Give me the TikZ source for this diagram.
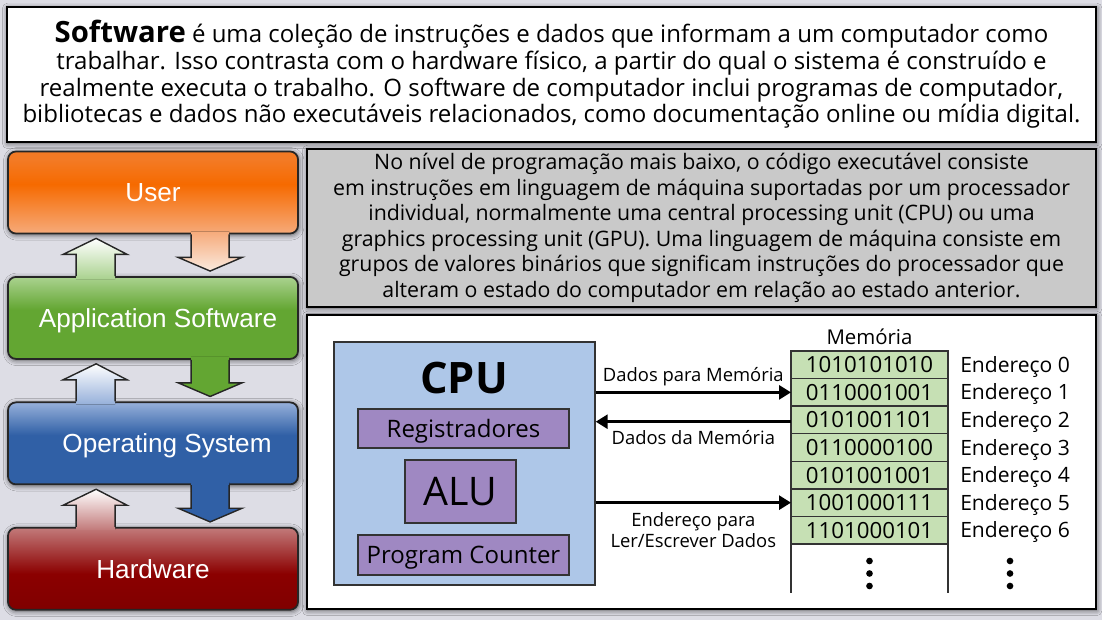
\documentclass[tikz,border=0pt]{standalone}
\usepackage{fontspec}
\setmainfont{Open Sans}
\newfontfamily\layerfont{Liberation Sans}
\usetikzlibrary{positioning, calc, arrows.meta, shadows.blur}

\definecolor{bggray}{RGB}{221,221,229}
\definecolor{panelgray}{RGB}{201,201,201}
\definecolor{cpublue}{RGB}{174,199,232}
\definecolor{regpurple}{RGB}{159,136,194}
\definecolor{memgreen}{RGB}{198,224,180}
\definecolor{usertop}{RGB}{243,122,36}
\definecolor{usermid}{RGB}{246,106,0}
\definecolor{userbot}{RGB}{246,170,122}
\definecolor{userpale}{RGB}{251,234,222}
\definecolor{apptop}{RGB}{170,210,143}
\definecolor{appmid}{RGB}{99,166,50}
\definecolor{ostop}{RGB}{150,176,218}
\definecolor{osmid}{RGB}{48,96,166}
\definecolor{hwtop}{RGB}{194,122,122}
\definecolor{hwmid}{RGB}{139,0,0}
\definecolor{hwbot}{RGB}{128,0,0}

\pgfdeclareverticalshading{usershade}{100bp}{color(0bp)=(userbot); color(25bp)=(userbot); color(55bp)=(usermid); color(70bp)=(usertop); color(100bp)=(usertop)}
\pgfdeclareverticalshading{appshade}{100bp}{color(0bp)=(appmid); color(25bp)=(appmid); color(55bp)=(appmid); color(75bp)=(apptop); color(100bp)=(apptop)}
\pgfdeclareverticalshading{osshade}{100bp}{color(0bp)=(osmid); color(25bp)=(osmid); color(55bp)=(osmid); color(75bp)=(ostop); color(100bp)=(ostop)}
\pgfdeclareverticalshading{hwshade}{100bp}{color(0bp)=(hwbot); color(25bp)=(hwbot); color(47bp)=(hwmid); color(75bp)=(hwtop); color(100bp)=(hwtop)}

\begin{document}
\begin{tikzpicture}[x=0.03cm, y=-0.03cm,
    node distance=1.25cm,
    shadowed/.style={blur shadow={shadow blur radius=4.5pt, shadow xshift=0.6pt, shadow yshift=-1.2pt, shadow opacity=65}},
    layer/.style={rectangle, rounded corners=0.24cm, draw=black!85, line width=1.5pt,
                  minimum width=8.7cm, minimum height=2.46cm, shade, text=white,
                  font=\layerfont\fontsize{22.3}{26}\selectfont,
                  text height=16pt, text depth=0pt, shadowed},
    panel/.style={rectangle, draw=black, line width=1.5pt, align=center, shadowed},
    cpupart/.style={rectangle, draw=black!80, line width=1.2pt, fill=regpurple,
                    font=\fontsize{20.5}{24}\selectfont, text height=14.6pt, text depth=0pt},
    memrow/.style={rectangle, draw=black!80, line width=1.2pt, fill=memgreen,
                   minimum width=4.71cm, minimum height=0.827cm, inner sep=0pt,
                   outer sep=0pt, font=\fontsize{19}{22}\selectfont,
                   text height=13.6pt, text depth=0pt},
    addr/.style={font=\fontsize{18}{22}\selectfont, inner sep=0pt,
                 text height=12.9pt, text depth=0pt},
    link/.style={-{Triangle[length=0.36cm, width=0.42cm]}, line width=2.4pt},
    linklabel/.style={font=\fontsize{15.7}{17.9}\selectfont, align=center},
    outline/.style={draw=black!85, line width=1.2pt, line join=miter}
  ]
  \path[use as bounding box, fill=bggray] (0,0) rectangle (1102,620);

  % text panels
  \node[panel, fill=white, minimum width=32.67cm, minimum height=4.05cm,
        font=\fontsize{20.5}{22.7}\selectfont] (intro) at (551.5,74.5)
    {{\fontsize{25}{22.7}\selectfont\bfseries Software} é uma coleção de instruções e dados que informam a um computador como\\
     trabalhar. Isso contrasta com o hardware físico, a partir do qual o sistema é construído e\\
     realmente executa o trabalho. O software de computador inclui programas de computador,\\
     bibliotecas e dados não executáveis relacionados, como documentação online ou mídia digital.};
  \node[panel, fill=panelgray, minimum width=23.67cm, minimum height=4.74cm,
        font=\fontsize{18.2}{21.8}\selectfont] (lowlevel) at (701.5,228)
    {No nível de programação mais baixo, o código executável consiste\\
     em instruções em linguagem de máquina suportadas por um processador\\
     individual, normalmente uma central processing unit (CPU) ou uma\\
     graphics processing unit (GPU). Uma linguagem de máquina consiste em\\
     grupos de valores binários que significam instruções do processador que\\
     alteram o estado do computador em relação ao estado anterior.};
  \node[panel, fill=white, minimum width=23.67cm, minimum height=8.82cm] (machine) at (701.5,462) {};

  % layers
  \node[layer, shading=usershade] (user) at (153,192.5) {User};
  \node[layer, shading=appshade, below=of user] (app) {\hspace*{0.3cm}Application Software};
  \node[layer, shading=osshade, below=of app] (os) {\hspace*{0.84cm}Operating System};
  \node[layer, shading=hwshade, below=of os] (hw) {Hardware};

  % arrows going up
  \foreach \lo/\hi/\col in {app/user/apptop, os/app/ostop, hw/os/hwtop} {
    \fill[top color=white, bottom color=\col]
      ($(\lo.north west)+(69,3)$) -- ($(\hi.south west)+(69,20)$) -- ($(\hi.south west)+(56,20)$)
      -- ($(\hi.south west)+(89,4)$) -- ($(\hi.south west)+(120,20)$) -- ($(\hi.south west)+(108,20)$)
      -- ($(\lo.north west)+(108,3)$) -- cycle;
    \draw[outline]
      ($(\lo.north west)+(69,0)$) -- ($(\hi.south west)+(69,20)$) -- ($(\hi.south west)+(56,20)$)
      -- ($(\hi.south west)+(89,4)$) -- ($(\hi.south west)+(120,20)$) -- ($(\hi.south west)+(108,20)$)
      -- ($(\lo.north west)+(108,0)$);
  }
  % arrows going down
  \foreach \hi/\lo/\ca/\cb in {user/app/userbot/userpale, app/os/appmid/appmid, os/hw/osmid/osmid} {
    \fill[top color=\ca, bottom color=\cb]
      ($(\hi.south west)+(184,-3)$) -- ($(\hi.south west)+(184,23)$) -- ($(\hi.south west)+(171,23)$)
      -- ($(\lo.north west)+(203,-5)$) -- ($(\hi.south west)+(235,23)$) -- ($(\hi.south west)+(222,23)$)
      -- ($(\hi.south west)+(222,-3)$) -- cycle;
    \draw[outline]
      ($(\hi.south west)+(184,0)$) -- ($(\hi.south west)+(184,23)$) -- ($(\hi.south west)+(171,23)$)
      -- ($(\lo.north west)+(203,-5)$) -- ($(\hi.south west)+(235,23)$) -- ($(\hi.south west)+(222,23)$)
      -- ($(\hi.south west)+(222,0)$);
  }

  % cpu
  \node[rectangle, draw=black!80, line width=1.2pt, fill=cpublue,
        minimum width=7.83cm, minimum height=7.29cm] (cpu) at (464.5,463.5) {};
  \node[font=\bfseries\fontsize{37}{40}\selectfont] (cpulabel) at (464,378) {CPU};
  \node[cpupart, minimum width=6.33cm, minimum height=1.17cm] (reg) at (463.5,428.5) {Registradores};
  \node[cpupart, minimum width=3.33cm, minimum height=1.89cm,
        font=\fontsize{33.6}{38}\selectfont, text height=24pt] (alu) at (460.5,491.5) {ALU};
  \node[cpupart, minimum width=6.33cm, minimum height=1.2cm] (pc) at (463.5,555) {Program Counter};

  % memory
  \node[memrow] (m0) at (869.5,364.8) {1010101010};
  \foreach \val [count=\i, remember=\i as \prev (initially 0)] in
      {0110001001, 0101001101, 0110000100, 0101001001, 1001000111, 1101000101}
    \node[memrow, below=0pt of m\prev] (m\i) {\val};
  \foreach \i in {0,...,6}
    \node[addr, right=0.36cm of m\i] (e\i) {Endereço \i};
  \node[font=\fontsize{17.4}{20}\selectfont] (memlabel) at (869.5,337) {Memória};
  \draw[draw=black!80, line width=1.2pt] (m6.south west) -- ++(0,49);
  \draw[draw=black!80, line width=1.2pt] (m6.south east) -- ++(0,49);
  \foreach \d in {0,1,2} {
    \fill (m6.south) ++(0,17+12.5*\d) circle (0.1cm);
    \fill (m6.south east) ++(62,17+12.5*\d) circle (0.1cm);
  }

  % buses
  \draw[link] (cpu.east |- m1.west) -- (m1.west)
    node[linklabel, midway, above=1pt] (tomem) {Dados para Memória};
  \draw[link] ([yshift=-1.5pt]m2.west) -- ([yshift=-1.5pt]m2.west -| cpu.east)
    node[linklabel, midway, below=2.5pt] (frommem) {Dados da Memória};
  \draw[link] (cpu.east |- m5.west) -- (m5.west)
    node[linklabel, midway, below=3.5pt] (addrbus) {Endereço para\\Ler/Escrever Dados};
\end{tikzpicture}
\end{document}
